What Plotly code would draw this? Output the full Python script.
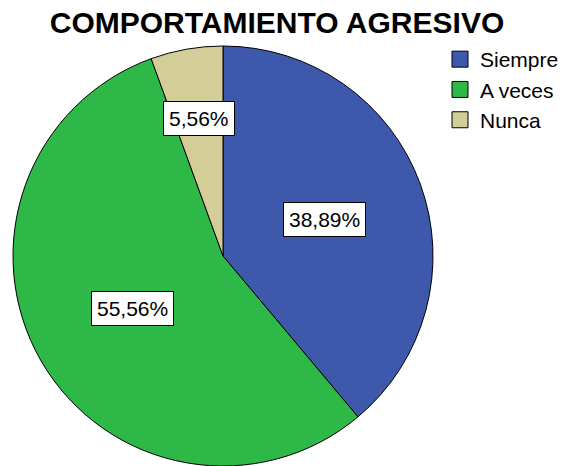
import math
import plotly.graph_objects as go

categories = ["Siempre", "A veces", "Nunca"]
counts = [7, 10, 1]
colors = ["#3E58AC", "#2EB848", "#D3CE97"]
label_radius = [0.515, 0.5, 0.665]  # fraction of radius for the boxed labels

W, H = 561, 466
cx_px, cy_px, r_px = 223, 256, 210

dom_x = [(cx_px - r_px) / W, (cx_px + r_px) / W]
dom_y = [max(0, 1 - (cy_px + r_px) / H), 1 - (cy_px - r_px) / H]

FONT = "Arial, Liberation Sans"

fig = go.Figure()
fig.add_trace(go.Pie(
    labels=categories, values=counts, sort=False, direction="clockwise", rotation=0,
    marker=dict(colors=colors, line=dict(color="#000000", width=1)),
    textinfo="none", hoverinfo="label+percent", showlegend=False,
    domain=dict(x=dom_x, y=dom_y),
))
# legend entries (proxy traces carrying the category colours)
for cat, col in zip(categories, colors):
    fig.add_trace(go.Scatter(
        x=[None], y=[None], mode="markers", name=cat,
        marker=dict(symbol="square", size=16, color=col, line=dict(color="#000000", width=1)),
        hoverinfo="skip",
    ))

total = sum(counts)
acc = 0
annotations = []
for cat, v, f in zip(categories, counts, label_radius):
    mid = (acc + v / 2) / total * 2 * math.pi
    acc += v
    px = cx_px + f * r_px * math.sin(mid)
    py = cy_px - f * r_px * math.cos(mid)
    pct = f"{100 * v / total:.2f}".replace(".", ",") + "%"
    annotations.append(dict(
        x=px / W, y=1 - py / H, xref="paper", yref="paper", text=pct, showarrow=False,
        font=dict(family=FONT, size=21, color="#000000"),
        bgcolor="#FFFFFF", bordercolor="#000000", borderwidth=1, borderpad=5,
        xanchor="center", yanchor="middle",
    ))

fig.update_layout(
    width=W, height=H, margin=dict(l=0, r=0, t=0, b=0, autoexpand=False),
    paper_bgcolor="#FFFFFF", plot_bgcolor="#FFFFFF",
    xaxis=dict(visible=False), yaxis=dict(visible=False),
    title=dict(text="<b>COMPORTAMIENTO AGRESIVO</b>", x=277 / W, xanchor="center",
               y=1 - 22 / H, yanchor="middle",
               font=dict(family=FONT, size=30, color="#000000")),
    legend=dict(x=440 / W, y=1 - 39 / H, xanchor="left", yanchor="top",
                font=dict(family=FONT, size=21, color="#000000"),
                itemwidth=30, itemsizing="trace", tracegroupgap=0,
                bgcolor="rgba(0,0,0,0)"),
    annotations=annotations,
    showlegend=True,
)

fig.write_html("out.html", config={"displayModeBar": False},
               post_script="document.body.style.margin='0';")
